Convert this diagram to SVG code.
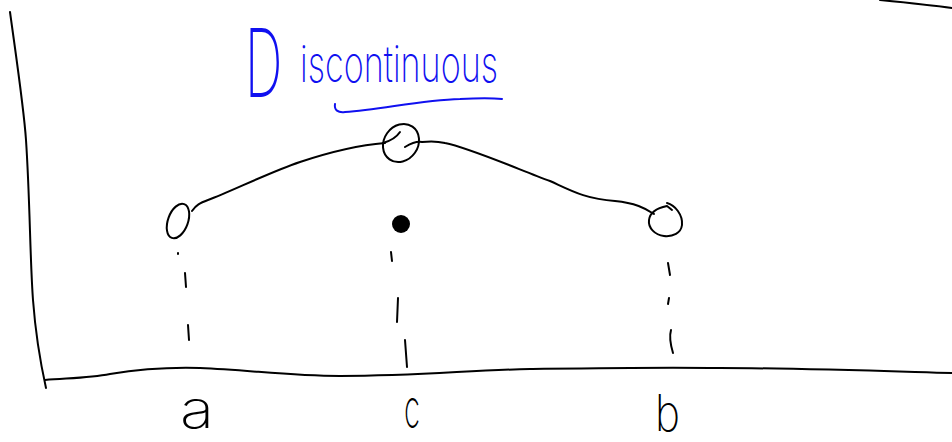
<svg xmlns="http://www.w3.org/2000/svg" width="952" height="442" viewBox="0 0 952 442">
<style>
.ink{fill:none;stroke:#000;stroke-width:2;stroke-linecap:round;stroke-linejoin:round}
.blue{fill:none;stroke:#1010f0;stroke-width:2;stroke-linecap:round}
.lbl{font-family:Inter,"Liberation Sans",sans-serif;font-weight:200;fill:#000}
.title{font-family:Inter,"Liberation Sans",sans-serif;font-weight:200;fill:#1010f0}
</style>
<rect width="952" height="442" fill="#fff"/>
<g id="axes">
<path class="ink" d="M10,12 C18,70 24,110 26,140 C30,200 30,260 33,300 C36,340 42,370 46,388"/>
<path class="ink" d="M45,380 C70,378 90,378 110,374 C140,369 165,367 200,368 C250,370 290,376 340,376 C420,376 470,370 530,369 C600,368 660,367 720,368 C790,368 880,371 952,373"/>
<path class="ink" d="M880,0 C910,3 930,5 952,8"/>
</g>
<g id="title">
<text class="title" transform="translate(245 97) scale(0.55 1)" font-size="95">D</text>
<text class="title" x="300" y="82" font-size="50" textLength="198" lengthAdjust="spacingAndGlyphs">iscontinuous</text>
<path class="blue" d="M335,104 C334,110 338,113 345,112 C380,110 420,100 460,99 C480,98 492,98 502,99"/>
</g>
<g id="connectors">
<path class="ink" d="M192,211 C196,205 200,203 208,200 C230,192 270,172 300,162 C330,152 360,145 385,143"/>
<path class="ink" d="M383,143 C390,141 396,138 400,132"/>
<path class="ink" d="M405,147 C410,144 416,141 422,142 C430,141 437,141 445,143 C470,148 520,170 550,181 C570,190 585,199 615,201 C635,203 645,208 654,214"/>
</g>
<g id="point-a">
<ellipse class="ink" cx="178" cy="221" rx="10" ry="18" transform="rotate(20 178 221)"/>
<path class="ink" d="M178,253 L178,254 M185,273 L186,287 M188,325 L189,340"/>
<text class="lbl" x="180" y="428" font-size="52" textLength="34" lengthAdjust="spacingAndGlyphs">a</text>
</g>
<g id="point-c">
<ellipse class="ink" cx="401" cy="143" rx="17" ry="20" transform="rotate(35 401 143)"/>
<circle cx="401" cy="224" r="9" fill="#000"/>
<path class="ink" d="M391,252 L392,261 M398,298 L397,322 M405,340 L407,367"/>
<text class="lbl" x="404" y="428" font-size="54" textLength="16" lengthAdjust="spacingAndGlyphs">c</text>
</g>
<g id="point-b">
<path class="ink" d="M667,203 C675,205 683,215 682,225 C681,233 673,237 664,236 C655,235 648,228 649,220 C650,212 657,208 667,206 L672,210"/>
<path class="ink" d="M668,263 L670,275 M669,298 L668,304 M671,330 C669,337 670,343 673,353"/>
<text class="lbl" x="655" y="431" font-size="50" textLength="25" lengthAdjust="spacingAndGlyphs">b</text>
</g>
</svg>
